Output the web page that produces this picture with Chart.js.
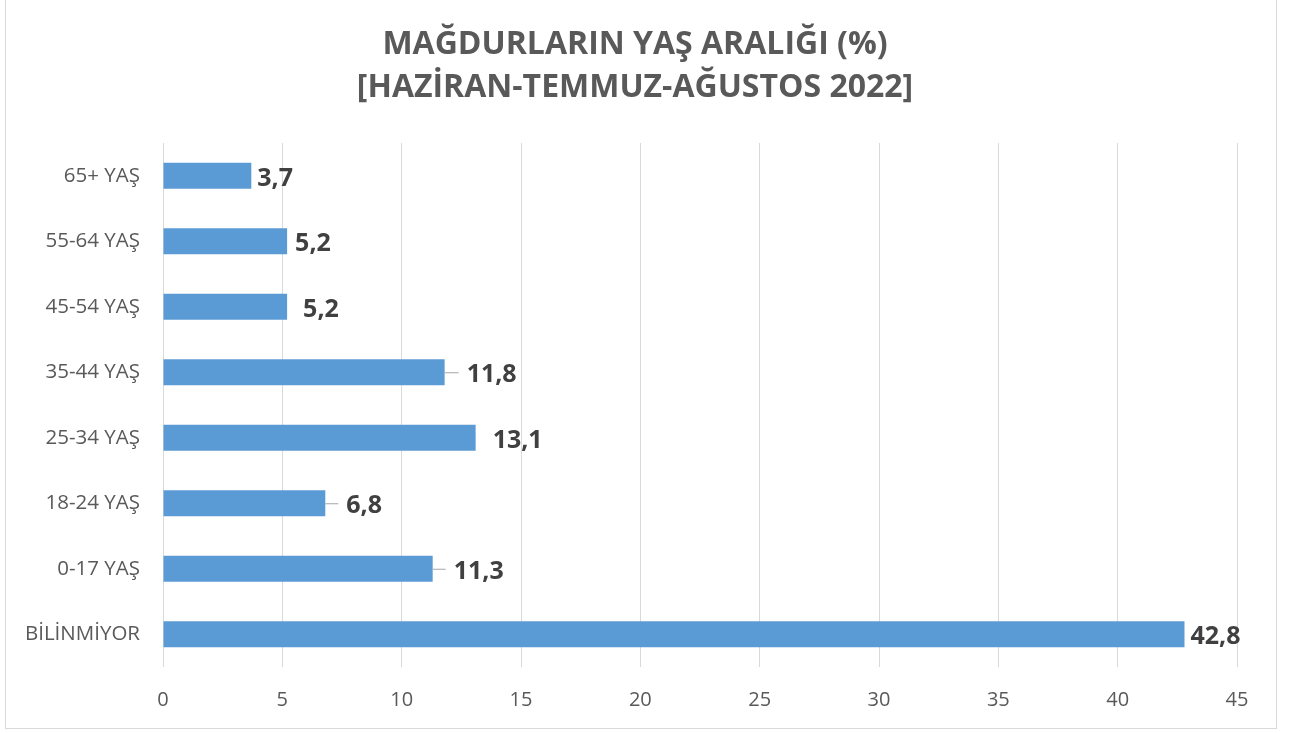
<!DOCTYPE html>
<html>
<head>
<meta charset="utf-8">
<script src="https://cdn.jsdelivr.net/npm/chart.js@4"></script>
<style>
  html, body { margin: 0; padding: 0; background: #fff; }
  #wrap { width: 1291px; height: 733px; }
</style>
</head>
<body>
<div id="wrap"><canvas id="chart"></canvas></div>
<script>
// data, top to bottom as in the picture
var categories = ['65+ YAŞ', '55-64 YAŞ', '45-54 YAŞ', '35-44 YAŞ', '25-34 YAŞ', '18-24 YAŞ', '0-17 YAŞ', 'BİLİNMİYOR'];
var values = [3.7, 5.2, 5.2, 11.8, 13.1, 6.8, 11.3, 42.8];
var xTicks = [0, 5, 10, 15, 20, 25, 30, 35, 40, 45];
var titleLines = ['MAĞDURLARIN YAŞ ARALIĞI (%)', '[HAZİRAN-TEMMUZ-AĞUSTOS 2022]'];

// label placement (px gap from bar end, and whether a leader line is drawn)
var labelGap = [6, 8, 16, 22, 17, 21, 21, 6];
var labelLeader = [false, false, false, true, false, true, true, false];

var valueLabels = {
    id: 'valueLabels',
    afterDatasetsDraw: function (chart) {
        var ctx = chart.ctx;
        var meta = chart.getDatasetMeta(0);
        ctx.save();
        ctx.font = 'bold 25px "Open Sans"';
        ctx.textBaseline = 'middle';
        ctx.textAlign = 'left';
        meta.data.forEach(function (bar, i) {
            var x = bar.x + labelGap[i];
            if (labelLeader[i]) {
                ctx.strokeStyle = '#a6a6a6';
                ctx.lineWidth = 1;
                ctx.beginPath();
                ctx.moveTo(bar.x, bar.y + 0.5);
                ctx.lineTo(x - 8, bar.y + 0.5);
                ctx.stroke();
            }
            ctx.fillStyle = '#404040';
            ctx.fillText(values[i].toFixed(1).replace('.', ','), x, bar.y + 3);
        });
        ctx.restore();
    }
};

// frame + title (title sits a bit right of the canvas centre, like the original)
var frame = {
    id: 'frame',
    beforeDraw: function (chart) {
        var ctx = chart.ctx;
        ctx.save();
        ctx.fillStyle = '#fff';
        ctx.fillRect(0, 0, chart.width, chart.height);
        ctx.strokeStyle = '#d9d9d9';
        ctx.lineWidth = 1;
        ctx.strokeRect(5.5, -1, 1271, 729.5);

        ctx.fillStyle = '#595959';
        ctx.font = 'bold 32px "Open Sans"';
        ctx.textAlign = 'center';
        ctx.textBaseline = 'middle';
        titleLines.forEach(function (line, i) {
            ctx.fillText(line, 635, 45 + i * 43);
        });
        ctx.restore();
    }
};

new Chart(document.getElementById('chart'), {
    type: 'bar',
    data: {
        labels: categories,
        datasets: [{
            data: values,
            backgroundColor: '#5b9bd5',
            borderWidth: 0,
            categoryPercentage: 1,
            barPercentage: 0.4
        }]
    },
    options: {
        indexAxis: 'y',
        responsive: true,
        maintainAspectRatio: false,
        animation: false,
        layout: { padding: { left: 0, right: 54, top: 143, bottom: 0 } },
        plugins: {
            legend: { display: false },
            tooltip: { enabled: false },
            title: { display: false }
        },
        scales: {
            x: {
                min: 0,
                max: 45,
                afterBuildTicks: function (axis) {
                    axis.ticks = xTicks.map(function (v) { return { value: v }; });
                },
                afterFit: function (axis) { axis.height = 66; },
                grid: { color: '#d9d9d9', lineWidth: 1, drawTicks: false },
                border: { display: false },
                ticks: {
                    color: '#595959',
                    font: { family: '"Open Sans"', size: 20 },
                    padding: 21
                }
            },
            y: {
                grid: { display: false, drawTicks: false },
                border: { display: false },
                afterFit: function (axis) { axis.width = 163; },
                ticks: {
                    color: '#595959',
                    font: { family: '"Open Sans"', size: 20.5 },
                    padding: 23
                }
            }
        }
    },
    plugins: [frame, valueLabels]
});
</script>
</body>
</html>
